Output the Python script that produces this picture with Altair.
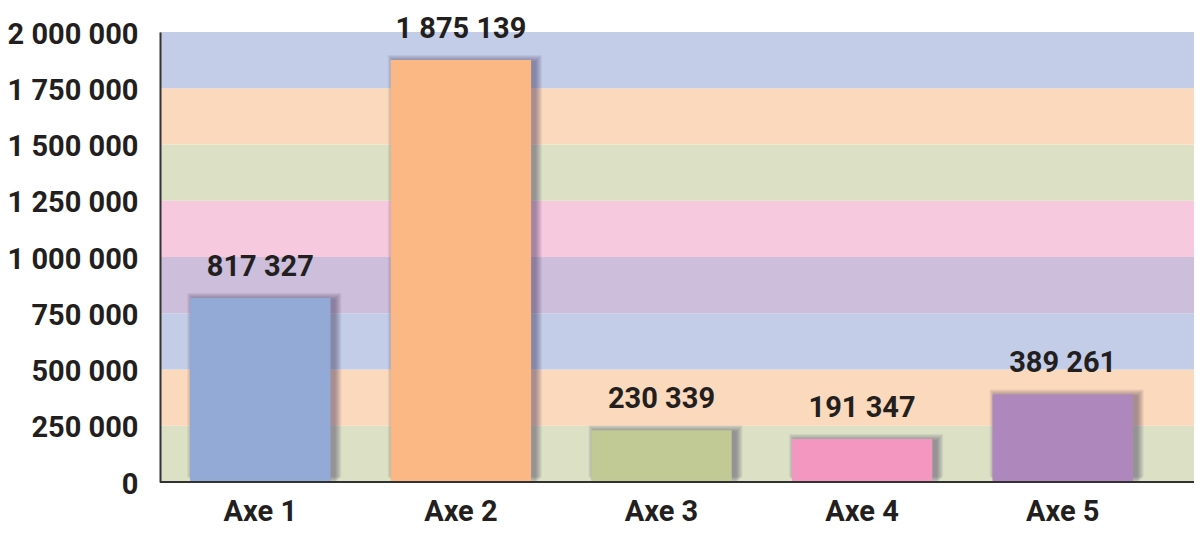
import altair as alt
import pandas as pd

categories = ["Axe 1", "Axe 2", "Axe 3", "Axe 4", "Axe 5"]
values = [817327, 1875139, 230339, 191347, 389261]
bar_colors = ["#93A9D6", "#FBB884", "#C1C994", "#F397C0", "#AE88BC"]

band_starts = [0, 250000, 500000, 750000, 1000000, 1250000, 1500000, 1750000]
band_ends = [250000, 500000, 750000, 1000000, 1250000, 1500000, 1750000, 2000000]
band_colors = ["#DCE1C6", "#FBD9BC", "#C3CDE7", "#CDBEDB", "#F7C9DF", "#DCE1C6", "#FBD9BC", "#C3CDE7"]

y_ticks = [0, 250000, 500000, 750000, 1000000, 1250000, 1500000, 1750000, 2000000]

FONT = "Roboto"
FS = 29
W, H = 1034, 450
FMT = "replace(format(datum.value, ','), regexp(',', 'g'), ' ')"

bars_df = pd.DataFrame({"cat": categories, "value": values, "color": bar_colors})
bands_df = pd.DataFrame({"start": band_starts, "end": band_ends, "color": band_colors})

yscale = alt.Scale(domain=[0, 2000000], nice=False, zero=True)
xscale = alt.Scale(domain=categories, range=[0, 1003], paddingInner=0.3, paddingOuter=0.15)

x_axis = alt.Axis(
    title=None, domain=False, ticks=False, labelAngle=0, labelPadding=15,
    labelFont=FONT, labelFontSize=FS, labelFontWeight="bold", labelColor="#231F20",
    zindex=1,
)
y_axis = alt.Axis(
    title=None, values=y_ticks, ticks=False, grid=False, labelPadding=22,
    labelFont=FONT, labelFontSize=FS, labelFontWeight="bold", labelColor="#231F20",
    labelOffset=2, domainColor="#333333", domainWidth=2, zindex=1,
    labelExpr=FMT,
)

X = alt.X("cat:N", scale=xscale, sort=categories, axis=x_axis)
Y = alt.Y("value:Q", scale=yscale, axis=y_axis)

bands = alt.Chart(bands_df).mark_rect().encode(
    x=alt.value(0),
    x2=alt.value(W),
    y=alt.Y("start:Q", scale=yscale, axis=y_axis),
    y2="end:Q",
    color=alt.Color("color:N", scale=None),
)

shadows = []
for k in range(1, 8):
    shadows.append(
        alt.Chart(bars_df).mark_bar(
            width=140 + 2 * k, xOffset=4, yOffset=-k + 2, y2Offset=k + 1,
            color="#3a2f5a", opacity=0.08,
        ).encode(x=X, y=Y)
    )

bars = alt.Chart(bars_df).mark_bar().encode(
    x=X, y=Y, color=alt.Color("color:N", scale=None),
)

texts = alt.Chart(bars_df).transform_calculate(
    label=FMT
).mark_text(
    baseline="bottom", dy=-16, font=FONT, fontSize=FS, fontWeight="bold", color="#231F20",
).encode(x=X, y=Y, text="label:N")

base_rule = alt.Chart(bars_df).mark_rule(color="#333333", strokeWidth=1.5).encode(
    x=alt.value(0), x2=alt.value(W), y=alt.value(H)
)

chart = alt.layer(bands, *shadows, bars, texts, base_rule).properties(
    width=W, height=H,
    autosize=alt.AutoSizeParams(type="none"),
    padding={"left": 152, "top": 24, "right": 0, "bottom": 47},
).configure_view(stroke=None)

chart.save("out.html", embed_options={"renderer": "svg", "actions": False})
